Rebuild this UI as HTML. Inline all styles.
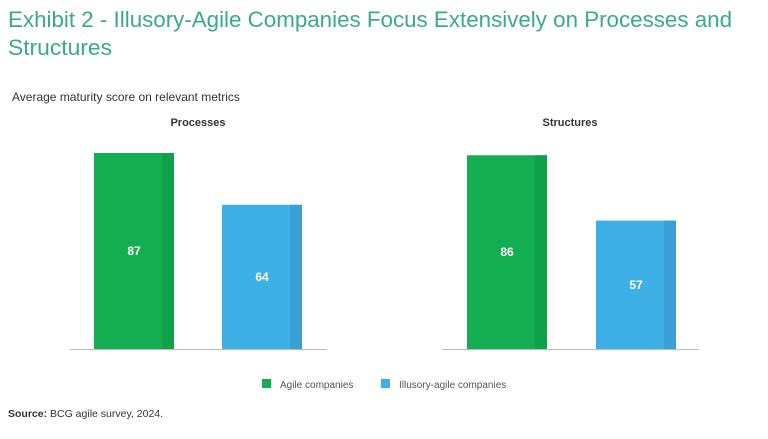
<!DOCTYPE html>
<html><head><meta charset="utf-8"><style>
body{margin:0;width:768px;height:434px;background:#fff;font-family:"Liberation Sans",sans-serif;overflow:hidden}
</style></head><body>
<svg width="768" height="434">
<text x="8" y="27" font-size="22" fill="#3aaa8a" textLength="724" lengthAdjust="spacingAndGlyphs">Exhibit 2 - Illusory-Agile Companies Focus Extensively on Processes and</text>
<text x="8" y="55" font-size="22" fill="#3aaa8a" textLength="104" lengthAdjust="spacingAndGlyphs">Structures</text>
<text x="12" y="101" font-size="12" fill="#333">Average maturity score on relevant metrics</text>
<g id="panels"></g>
<rect x="262" y="379" width="9" height="9" fill="#14ae52"/>
<text x="280" y="388" font-size="10" fill="#555">Agile companies</text>
<rect x="381" y="379" width="9" height="9" fill="#3fb0e6"/>
<text x="399" y="388" font-size="10" fill="#555">Illusory-agile companies</text>
<text x="8" y="417" font-size="10.5" fill="#333"><tspan font-weight="bold">Source:</tspan> BCG agile survey, 2024.</text>
</svg>
<script>
const panelTitles=["Processes","Structures"];
const agileValues=[87,86];
const illusoryValues=[64,57];
const ns="http://www.w3.org/2000/svg";
const g=document.getElementById("panels");
const base=349, scale=(349-153)/87;
const y=v=>base-v*scale;
const panelX=[70,442];
function mk(t,a){const e=document.createElementNS(ns,t);for(const k in a)e.setAttribute(k,a[k]);g.appendChild(e);return e;}
panelTitles.forEach((t,i)=>{
 const x0=panelX[i];
 const tt=mk("text",{x:x0+128,y:126,"font-size":11,"font-weight":"bold",fill:"#333","text-anchor":"middle"});
 tt.textContent=t;
 
 
 const series=[[agileValues[i],"#14ae52","#0fa04a",x0+24+(i?1:0)],[illusoryValues[i],"#3fb0e6","#3a9fd3",x0+152+(i?2:0)]];
 series.forEach(([v,c,d,bx],j)=>{
  const top=y(v);
  const r=mk("rect",{x:bx,y:top,width:80,height:base-top,fill:c});
  
  
  const s=mk("rect",{x:bx+68,y:top,width:12,height:base-top,fill:d});
  
  
  const l=mk("text",{x:bx+40,y:(top+base)/2+4,"font-size":12,"font-weight":"bold",fill:"#fff","text-anchor":"middle"});
  l.textContent=v;
  
  
 });
 const ax=mk("line",{x1:x0,x2:x0+257,y1:base+0.5,y2:base+0.5,stroke:"#bbb","stroke-width":1});
 
 
});
</script>
</body></html>
